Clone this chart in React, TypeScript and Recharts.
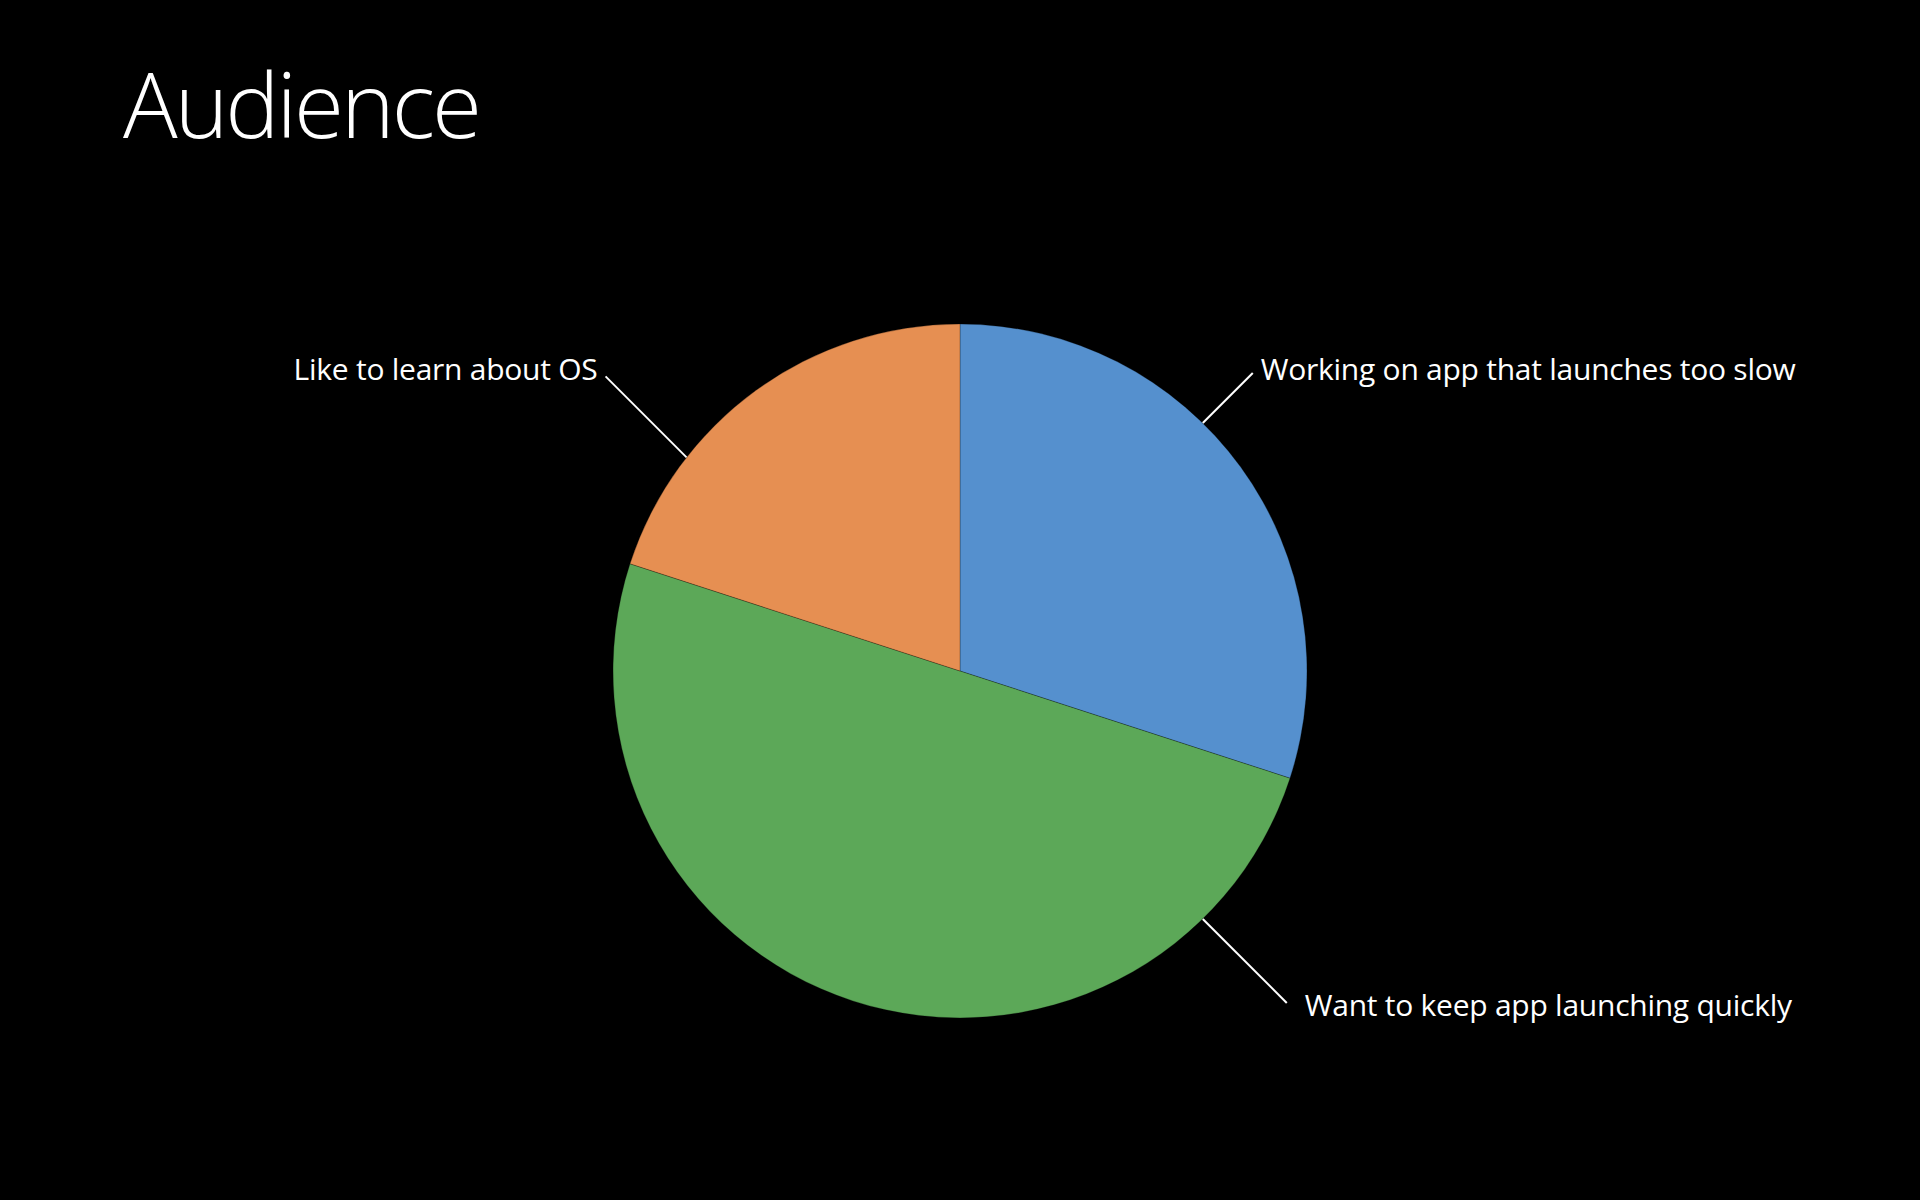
import { PieChart, Pie, Cell } from "recharts";

const CATEGORIES = [
  "Working on app that launches too slow",
  "Want to keep app launching quickly",
  "Like to learn about OS",
];
const SHARES = [30, 50, 20];
const COLORS = ["#5590CE", "#5CA858", "#E68F52"];

// callout geometry: where the leader leaves the rim (deg, ccw from 3 o'clock),
// its diagonal direction and run, then text gap and baseline offset
const CALLOUTS = [
  { angle: 45.6, dx: 1, dy: -1, run: 50, gap: 8, base: 7 },
  { angle: -45.6, dx: 1, dy: 1, run: 84, gap: 18, base: 13 },
  { angle: 142, dx: -1, dy: -1, run: 81, gap: 8, base: 4 },
];

const FONT = "'Open Sans', 'Noto Sans', sans-serif";

function Callout(props: any) {
  const { cx, cy, outerRadius, index } = props;
  const c = CALLOUTS[index];
  const rad = (-c.angle * Math.PI) / 180;
  const x0 = cx + outerRadius * Math.cos(rad);
  const y0 = cy + outerRadius * Math.sin(rad);
  const x1 = x0 + c.dx * c.run;
  const y1 = y0 + c.dy * c.run;
  return (
    <g>
      <line x1={x0} y1={y0} x2={x1} y2={y1} stroke="#fff" strokeWidth={2} />
      <text
        x={x1 + c.dx * c.gap}
        y={y1 + c.base}
        textAnchor={c.dx > 0 ? "start" : "end"}
        fill="#fff"
        fontSize={30}
        fontWeight={400}
        letterSpacing={-0.25}
        fontFamily={FONT}
      >
        {CATEGORIES[index]}
      </text>
    </g>
  );
}

export default function App() {
  const data = CATEGORIES.map((name, i) => ({ name, value: SHARES[i] }));

  return (
    <div style={{ position: "fixed", inset: 0, background: "#000", overflow: "hidden" }}>
      <div
        style={{
          position: "absolute",
          left: 123,
          top: 58,
          fontFamily: FONT,
          fontWeight: 300,
          fontSize: 91,
          lineHeight: 1,
          letterSpacing: -3,
          color: "#fff",
        }}
      >
        Audience
      </div>
      <div style={{ position: "absolute", left: 0, top: 0 }}>
        <PieChart width={1920} height={1200} margin={{ top: 0, right: 0, bottom: 0, left: 0 }}>
          <Pie
            data={data}
            dataKey="value"
            nameKey="name"
            cx={960}
            cy={671}
            outerRadius={347}
            startAngle={90}
            endAngle={-270}
            stroke="rgba(0,0,0,0.25)"
            strokeWidth={1}
            labelLine={false}
            label={Callout}
            isAnimationActive={false}
          >
            {data.map((d, i) => (
              <Cell key={d.name} fill={COLORS[i]} />
            ))}
          </Pie>
        </PieChart>
      </div>
    </div>
  );
}
